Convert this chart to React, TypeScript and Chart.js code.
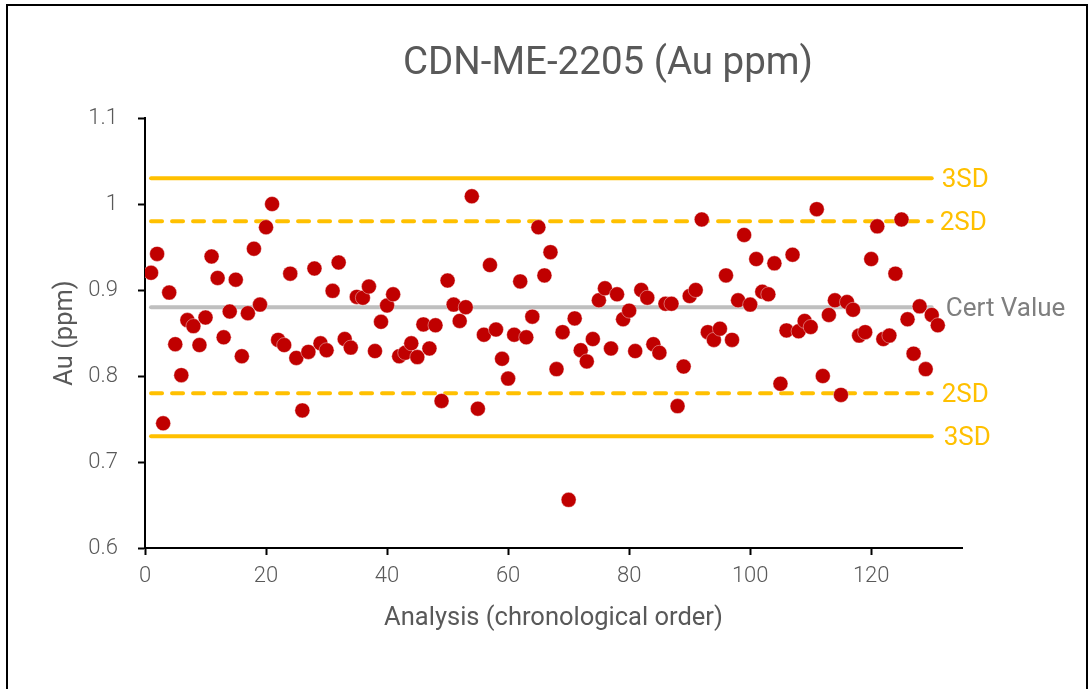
import React, { useEffect, useRef } from "react";
import { Chart, registerables } from "chart.js";

Chart.register(...registerables);

const chartTitle = "CDN-ME-2205 (Au ppm)";
const xAxisTitle = "Analysis (chronological order)";
const yAxisTitle = "Au (ppm)";

const auValues = [
  0.920, 0.942, 0.745, 0.897, 0.837, 0.801, 0.865, 0.858, 0.836, 0.868,
  0.939, 0.914, 0.845, 0.875, 0.912, 0.823, 0.873, 0.948, 0.883, 0.973,
  1.000, 0.842, 0.836, 0.919, 0.821, 0.760, 0.828, 0.925, 0.838, 0.830,
  0.899, 0.932, 0.843, 0.833, 0.892, 0.891, 0.904, 0.829, 0.863, 0.882,
  0.895, 0.823, 0.827, 0.838, 0.822, 0.860, 0.832, 0.859, 0.771, 0.911,
  0.883, 0.864, 0.880, 1.009, 0.762, 0.848, 0.929, 0.854, 0.820, 0.797,
  0.848, 0.910, 0.845, 0.869, 0.973, 0.917, 0.944, 0.808, 0.851, 0.656,
  0.867, 0.830, 0.817, 0.843, 0.888, 0.902, 0.832, 0.895, 0.866, 0.876,
  0.829, 0.900, 0.891, 0.837, 0.827, 0.884, 0.884, 0.765, 0.811, 0.893,
  0.900, 0.982, 0.851, 0.842, 0.855, 0.917, 0.842, 0.888, 0.964, 0.883,
  0.936, 0.898, 0.895, 0.931, 0.791, 0.853, 0.941, 0.852, 0.864, 0.857,
  0.994, 0.800, 0.871, 0.888, 0.778, 0.886, 0.877, 0.847, 0.851, 0.936,
  0.974, 0.843, 0.847, 0.919, 0.982, 0.866, 0.826, 0.881, 0.808, 0.871,
  0.859,
];

const refLabels = ["3SD", "2SD", "Cert Value", "2SD", "3SD"];
const refValues = [1.03, 0.98, 0.88, 0.78, 0.73];
const refStyles = ["solid", "dashed", "cert", "dashed", "solid"];
const refRange = [1, 130];

const xTicks = [0, 20, 40, 60, 80, 100, 120];
const yTicks = [0.6, 0.7, 0.8, 0.9, 1.0, 1.1];

const GOLD = "#FFC000";
const RED = "#C00000";
const CERT = "#BFBFBF";
const TEXT = "#595959";
const FONT = "Roboto, 'Noto Sans', sans-serif";

export default function App() {
  const canvasRef = useRef<HTMLCanvasElement | null>(null);

  useEffect(() => {
    document.body.style.margin = "0";
    const canvas = canvasRef.current;
    if (!canvas) return;

    const refDatasets = refValues.map((v, i) => ({
      type: "line" as const,
      label: refLabels[i],
      data: [
        { x: refRange[0], y: v },
        { x: refRange[1], y: v },
      ],
      borderColor: refStyles[i] === "cert" ? CERT : GOLD,
      borderWidth: 4,
      borderDash: refStyles[i] === "dashed" ? [11, 10] : [],
      borderCapStyle: "round" as const,
      pointRadius: 0,
      fill: false,
      order: 2,
    }));

    const labelDx = [10, 8, 14, 10, 12];

    const decorPlugin = {
      id: "decor",
      beforeDraw(chart: any) {
        const ctx = chart.ctx;
        ctx.save();
        ctx.fillStyle = "#ffffff";
        ctx.fillRect(0, 0, chart.width, chart.height);
        ctx.strokeStyle = "#000000";
        ctx.lineWidth = 2;
        ctx.strokeRect(7, 5, 1080, 800);
        ctx.restore();
      },
      afterDraw(chart: any) {
        const ctx = chart.ctx;
        const xs = chart.scales.x;
        const ys = chart.scales.y;
        ctx.save();
        // title
        ctx.fillStyle = TEXT;
        ctx.font = `400 38.5px ${FONT}`;
        ctx.textAlign = "center";
        ctx.textBaseline = "alphabetic";
        ctx.fillText(chartTitle, 608, 74);
        // x title
        ctx.font = `400 25.5px ${FONT}`;
        ctx.fillText(xAxisTitle, (xs.left + xs.right) / 2, 625);
        // y title
        ctx.save();
        ctx.translate(72, (ys.top + ys.bottom) / 2);
        ctx.rotate(-Math.PI / 2);
        ctx.fillText(yAxisTitle, 0, 0);
        ctx.restore();
        // reference labels
        ctx.font = `400 26px ${FONT}`;
        ctx.textAlign = "left";
        refValues.forEach((v, i) => {
          ctx.fillStyle = refStyles[i] === "cert" ? "#7F7F7F" : GOLD;
          const px = xs.getPixelForValue(refRange[1]) + labelDx[i];
          const py = ys.getPixelForValue(v) + 9;
          ctx.fillText(refLabels[i], px, py);
        });
        ctx.restore();
      },
    };

    const chart = new Chart(canvas, {
      type: "scatter",
      data: {
        datasets: [
          {
            type: "scatter",
            label: "Au",
            data: auValues.map((v, i) => ({ x: i + 1, y: v })),
            backgroundColor: RED,
            borderColor: "rgba(255,255,255,0.5)",
            borderWidth: 0.8,
            pointRadius: 7.5,
            order: 1,
          },
          ...refDatasets,
        ] as any,
      },
      options: {
        responsive: false,
        animation: false,
        devicePixelRatio: 1,
        layout: { padding: { left: 0, top: 118, right: 126, bottom: 0 } },
        plugins: {
          legend: { display: false },
          title: { display: false },
          tooltip: { enabled: false },
        },
        scales: {
          x: {
            type: "linear",
            min: 0,
            max: 135,
            afterFit: (s: any) => {
              s.height = 141;
            },
            afterBuildTicks: (s: any) => {
              s.ticks = xTicks.map((v) => ({ value: v }));
            },
            ticks: {
              color: TEXT,
              font: { family: FONT, size: 22, weight: "300" as any },
              padding: 8,
              maxRotation: 0,
            },
            grid: {
              drawOnChartArea: false,
              drawTicks: true,
              tickLength: 7,
              tickColor: "#000000",
              tickWidth: 2,
            },
            border: { color: "#000000", width: 2 },
          },
          y: {
            type: "linear",
            min: 0.6,
            max: 1.1,
            afterFit: (s: any) => {
              s.width = 145;
            },
            afterBuildTicks: (s: any) => {
              s.ticks = yTicks.map((v) => ({ value: v }));
            },
            ticks: {
              color: TEXT,
              font: { family: FONT, size: 22, weight: "300" as any },
              padding: 20,
              callback: (v: any) => String(Number(Number(v).toFixed(1))),
            },
            grid: {
              drawOnChartArea: false,
              drawTicks: true,
              tickLength: 7,
              tickColor: "#000000",
              tickWidth: 2,
            },
            border: { color: "#000000", width: 2 },
          },
        },
      },
      plugins: [decorPlugin],
    });

    return () => chart.destroy();
  }, []);

  return (
    <div style={{ width: 1088, height: 689 }}>
      <canvas ref={canvasRef} width={1088} height={689} style={{ display: "block" }} />
    </div>
  );
}
